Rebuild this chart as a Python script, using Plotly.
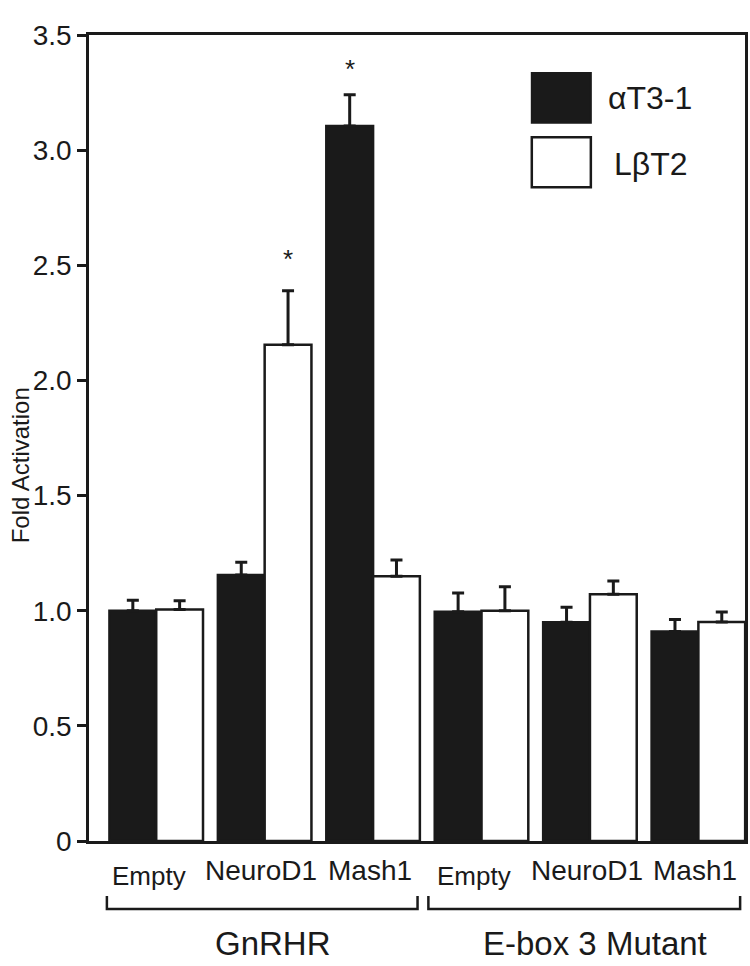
import plotly.graph_objects as go

# ---- data ----
bar_labels = ["Empty", "NeuroD1", "Mash1", "Empty", "NeuroD1", "Mash1"]
group_labels = ["GnRHR", "E-box 3 Mutant"]
series_names = ["αT3-1", "LβT2"]
at3_values = [1.00, 1.155, 3.105, 0.995, 0.95, 0.91]
at3_errors = [0.045, 0.055, 0.135, 0.082, 0.065, 0.052]
at3_sig = ["", "", "*", "", "", ""]
lbt2_values = [1.005, 2.155, 1.15, 1.0, 1.072, 0.951]
lbt2_errors = [0.038, 0.234, 0.07, 0.104, 0.057, 0.043]
lbt2_sig = ["", "*", "", "", "", ""]
y_tickvals = [0, 0.5, 1.0, 1.5, 2.0, 2.5, 3.0, 3.5]
y_ticktext = ["0", "0.5", "1.0", "1.5", "2.0", "2.5", "3.0", "3.5"]

INK = "#1a1a1a"
FONT = "Liberation Sans, Arial, Helvetica, sans-serif"
xs = list(range(len(bar_labels)))

fig = go.Figure()
for name, vals, errs, fill in [
    (series_names[0], at3_values, at3_errors, INK),
    (series_names[1], lbt2_values, lbt2_errors, "white"),
]:
    fig.add_trace(go.Bar(
        x=xs, y=vals, name=name,
        marker=dict(color=fill, line=dict(color=INK, width=2.5)),
        error_y=dict(type="data", array=errs, arrayminus=[0] * len(errs),
                     symmetric=False, color=INK, thickness=3, width=6),
        showlegend=False,
    ))

# significance asterisks
offset = {0: -0.215, 1: 0.215}
shift = {0: 26, 1: 32}
for si, (vals, errs, sig) in enumerate([(at3_values, at3_errors, at3_sig),
                                         (lbt2_values, lbt2_errors, lbt2_sig)]):
    for i, s in enumerate(sig):
        if s:
            fig.add_annotation(x=xs[i] + offset[si], y=vals[i] + errs[i], text=s,
                               showarrow=False, yanchor="middle", yshift=shift[si],
                               font=dict(size=26, color=INK, family=FONT))

# category labels under bars
for i, lab in enumerate(bar_labels):
    if lab == "Empty":
        fig.add_annotation(x=xs[i] - 0.07, y=-0.0434, xref="x", yref="paper",
                           text=lab, showarrow=False, yanchor="middle",
                           font=dict(size=26, color=INK, family=FONT))
    else:
        fig.add_annotation(x=xs[i] - 0.03, y=-0.0372, xref="x", yref="paper",
                           text=lab, showarrow=False, yanchor="middle",
                           font=dict(size=28, color=INK, family=FONT))

# group brackets and labels
brackets = [(-0.455, 2.41), (2.51, 5.385)]
for (x0, x1), glab in zip(brackets, group_labels):
    fig.add_shape(type="path", xref="x", yref="paper",
                  path=f"M {x0},-0.0682 L {x0},-0.0844 L {x1},-0.0844 L {x1},-0.0682",
                  line=dict(color=INK, width=2.5))
    fig.add_annotation(x=(x0 + x1) / 2 + 0.1, y=-0.1266, xref="x", yref="paper",
                       text=glab, showarrow=False, yanchor="middle",
                       font=dict(size=33, color=INK, family=FONT))

# legend (drawn)
fig.add_shape(type="rect", xref="paper", yref="paper", x0=0.675, x1=0.765,
              y0=0.891, y1=0.953, fillcolor=INK, line=dict(color=INK, width=2))
fig.add_shape(type="rect", xref="paper", yref="paper", x0=0.675, x1=0.765,
              y0=0.811, y1=0.873, fillcolor="white", line=dict(color=INK, width=2.5))
fig.add_annotation(x=0.7876, y=0.922, xref="paper", yref="paper", text=series_names[0],
                   showarrow=False, xanchor="left", yanchor="middle",
                   font=dict(size=32, color=INK, family=FONT))
fig.add_annotation(x=0.798, y=0.840, xref="paper", yref="paper", text=series_names[1],
                   showarrow=False, xanchor="left", yanchor="middle",
                   font=dict(size=32, color=INK, family=FONT))

# y-axis title
fig.add_annotation(x=-0.1047, y=0.4665, xref="paper", yref="paper",
                   text="Fold Activation", textangle=-90, showarrow=False,
                   xanchor="center", yanchor="middle",
                   font=dict(size=24, color=INK, family=FONT))

fig.update_layout(
    width=750, height=966,
    margin=dict(l=89, r=2, t=35, b=125),
    paper_bgcolor="white", plot_bgcolor="white",
    barmode="group", bargap=0.137, bargroupgap=0,
    showlegend=False,
)
fig.update_xaxes(range=[-0.62, 5.43], showticklabels=False, ticks="",
                 showline=True, linecolor=INK, linewidth=2.5, mirror=True,
                 showgrid=False, zeroline=False)
fig.update_yaxes(range=[0, 3.5], tickvals=y_tickvals, ticktext=y_ticktext,
                 ticks="outside", ticklen=9, tickwidth=2.5, tickcolor=INK,
                 tickfont=dict(size=28, color=INK, family=FONT),
                 showline=True, linecolor=INK, linewidth=2.5, mirror=True,
                 showgrid=False, zeroline=False)

fig.write_html("out.html", config={"displayModeBar": False},
               post_script="document.body.style.margin='0';document.body.style.padding='0';")
